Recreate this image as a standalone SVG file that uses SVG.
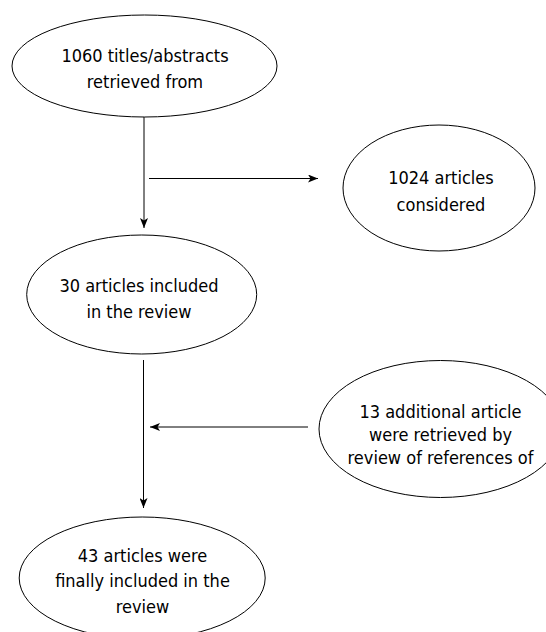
<svg xmlns="http://www.w3.org/2000/svg" width="546" height="632" viewBox="0 0 546 632">
<defs>
<style>
.node ellipse{fill:#fff;stroke:#000;stroke-width:1}
.node text{font-family:"DejaVu Sans Condensed","DejaVu Sans",sans-serif;font-stretch:condensed;font-size:18px;fill:#000;text-anchor:middle}
.edge{stroke:#000;stroke-width:1;fill:none}
</style>
<marker id="arr" viewBox="0 0 10 8" refX="10" refY="4" markerWidth="10" markerHeight="8" markerUnits="userSpaceOnUse" orient="auto">
<path d="M0,0 L10,4 L0,8 L2.5,4 z" fill="#000"/>
</marker>
</defs>
<rect width="546" height="632" fill="#fff"/>
<g id="connectors">
<line class="edge" x1="144" y1="116" x2="144" y2="228" marker-end="url(#arr)"/>
<line class="edge" x1="149" y1="178.5" x2="318" y2="178.5" marker-end="url(#arr)"/>
<line class="edge" x1="143.5" y1="360" x2="143.5" y2="508" marker-end="url(#arr)"/>
<line class="edge" x1="308" y1="427" x2="150" y2="427" marker-end="url(#arr)"/>
</g>
<g id="n1060" class="node">
<ellipse cx="144.5" cy="66" rx="132.5" ry="51"/>
<text x="145" y="62">1060 titles/abstracts</text>
<text x="145" y="88">retrieved from</text>
</g>
<g id="n1024" class="node">
<ellipse cx="439" cy="188" rx="96" ry="63"/>
<text x="441" y="184">1024 articles</text>
<text x="441" y="210.5">considered</text>
</g>
<g id="n30" class="node">
<ellipse cx="141.7" cy="294.5" rx="115" ry="59.5"/>
<text x="139" y="291.7">30 articles included</text>
<text x="139" y="318.3">in the review</text>
</g>
<g id="n13" class="node">
<ellipse cx="440.5" cy="429" rx="121.5" ry="68.5"/>
<text x="440.5" y="418.3">13 additional article</text>
<text x="440.5" y="441">were retrieved by</text>
<text x="440.5" y="463.5">review of references of</text>
</g>
<g id="n43" class="node">
<ellipse cx="142.2" cy="578" rx="123" ry="61"/>
<text x="142.5" y="561.7">43 articles were</text>
<text x="142.5" y="587.3">finally included in the</text>
<text x="142.5" y="613.3">review</text>
</g>
</svg>
